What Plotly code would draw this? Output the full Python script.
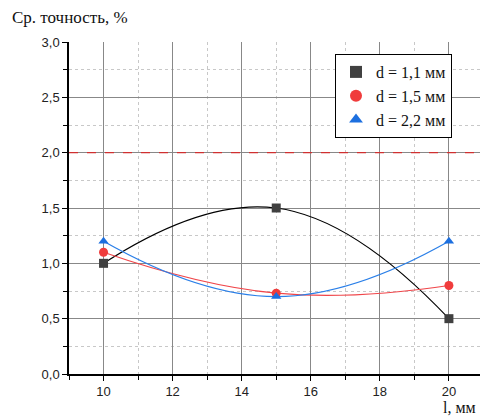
import plotly.graph_objects as go

x_vals = [10, 15, 20]
y_d11 = [1.0, 1.5, 0.5]
y_d15 = [1.1, 0.73, 0.8]
y_d22 = [1.2, 0.7, 1.2]
names = ["d = 1,1 мм", "d = 1,5 мм", "d = 2,2 мм"]
limit_y = 2.0

SERIF = "Liberation Serif"

fig = go.Figure()
styles = [
    (y_d11, "#000000", "#404040", "square"),
    (y_d15, "#F0464A", "#F03C3C", "circle"),
    (y_d22, "#2A7FE8", "#1C6FDF", "triangle-up"),
]
for (ys, lc, mc, sym), nm in zip(styles, names):
    fig.add_trace(go.Scatter(
        x=x_vals, y=ys, mode="lines", showlegend=False, hoverinfo="skip",
        line=dict(color=lc, width=1.2, shape="spline", smoothing=1.3),
    ))
for (ys, lc, mc, sym), nm in zip(styles, names):
    fig.add_trace(go.Scatter(
        x=x_vals, y=ys, name=nm, mode="markers",
        marker=dict(color=mc, symbol=sym, size=9, line=dict(width=0)),
    ))

fig.add_shape(type="line", xref="paper", yref="y", x0=0, x1=1, y0=limit_y, y1=limit_y,
              line=dict(color="#D03030", width=1.2, dash="dash"), layer="above")

axis_common = dict(
    showline=True, linecolor="black", linewidth=1.5, mirror=False,
    ticks="outside", ticklen=5, tickcolor="black", tickwidth=1,
    showgrid=True, gridcolor="#888888", gridwidth=1,
    zeroline=False,
    tickfont=dict(family="Liberation Sans", size=13, color="#222"),
)
fig.update_xaxes(range=[9, 20.9], tickvals=[10, 12, 14, 16, 18, 20],
                 minor=dict(dtick=1, tick0=9, ticks="outside", ticklen=4, tickcolor="black",
                            showgrid=True, gridcolor="#C8C8C8", griddash="dot", gridwidth=1),
                 **axis_common)
fig.update_yaxes(range=[0, 3.0], dtick=0.5, tick0=0, tickformat=".1f",
                 minor=dict(dtick=0.25, tick0=0, ticks="outside", ticklen=4, tickcolor="black",
                            showgrid=True, gridcolor="#C8C8C8", griddash="dot", gridwidth=1),
                 **axis_common)

fig.update_layout(
    width=480, height=416,
    margin=dict(l=69, r=0, t=42, b=42),
    plot_bgcolor="white", paper_bgcolor="white",
    separators=", ",
    showlegend=True,
    legend=dict(x=(335-69)/411, y=1 - (54-42)/332, xanchor="left", yanchor="top",
                bgcolor="white", bordercolor="black", borderwidth=1,
                font=dict(family=SERIF, size=16, color="#111"),
                tracegroupgap=0, itemsizing="constant", itemwidth=30),
    annotations=[
        dict(text="Ср. точность, %", xref="paper", yref="paper", x=-59/411, y=1 + (42-18)/332,
             xanchor="left", yanchor="middle", showarrow=False,
             font=dict(family=SERIF, size=17, color="#111")),
        dict(text="l, мм", xref="paper", yref="paper", x=1, y=-(397-374)/332,
             xanchor="right", yanchor="top", showarrow=False, xshift=-2,
             font=dict(family=SERIF, size=16, color="#111")),
    ],
)

fig.write_html("out.html")
